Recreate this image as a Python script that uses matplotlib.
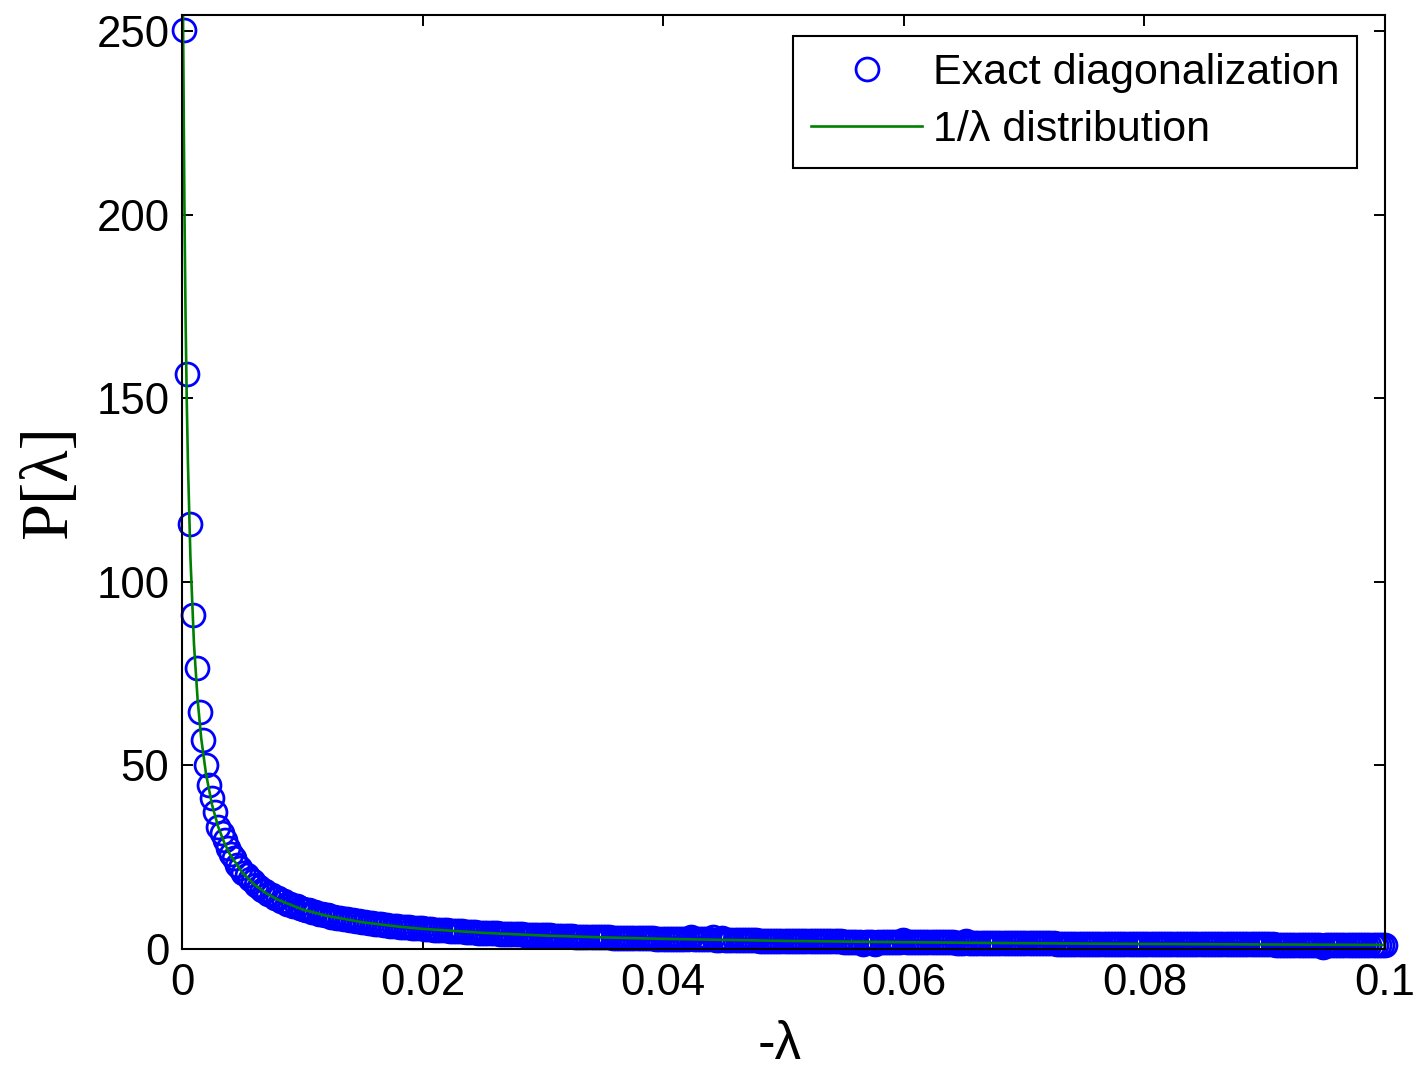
import numpy as np
import matplotlib
matplotlib.use("Agg")
import matplotlib.pyplot as plt

# Exact-diagonalization spectrum density, one value per eigenvalue bin
lam_start = 0.00017
lam_step = 0.00026
p_exact = [
    250.3, 156.6, 115.8, 91.0, 76.6, 64.6, 57.0, 50.2, 44.8, 41.2,
    37.2, 33.3, 31.6, 29.8, 27.4, 25.8, 24.7, 23.0, 22.2, 20.8,
    20.1, 19.0, 18.5, 17.4, 17.0, 16.1, 15.8, 15.0, 14.7, 14.0,
    13.8, 13.2, 13.0, 12.4, 12.3, 11.7, 11.6, 11.1, 11.0, 10.6,
    10.5, 10.1, 10.0, 9.6, 9.6, 9.2, 9.2, 8.8, 8.8, 8.5,
    8.5, 8.2, 8.2, 7.9, 7.9, 7.6, 7.6, 7.4, 7.3, 7.2,
    7.0, 6.9, 6.8, 6.7, 6.6, 6.5, 6.4, 6.3, 6.2, 6.1,
    6.1, 6.0, 5.9, 5.8, 5.7, 5.7, 5.6, 5.5, 5.5, 5.4,
    5.3, 5.3, 5.2, 5.1, 5.1, 5.0, 5.0, 4.9, 4.8, 4.8,
    4.7, 4.7, 4.6, 4.6, 4.5, 4.5, 4.4, 4.4, 4.4, 4.3,
    4.3, 4.2, 4.2, 4.1, 4.1, 4.1, 4.0, 4.0, 4.0, 3.9,
    3.9, 3.9, 3.8, 3.8, 3.8, 3.7, 3.7, 3.7, 3.6, 3.6,
    3.6, 3.5, 3.5, 3.5, 3.5, 3.4, 3.4, 3.4, 3.4, 3.3,
    3.3, 3.3, 3.3, 3.2, 3.2, 3.2, 3.2, 3.1, 3.1, 3.1,
    3.1, 3.0, 3.0, 3.0, 3.0, 3.0, 2.9, 2.9, 2.9, 2.9,
    2.9, 2.8, 2.8, 2.8, 2.8, 2.8, 2.8, 2.7, 2.7, 2.7,
    2.7, 2.7, 3.3, 2.6, 2.6, 2.6, 2.6, 2.6, 2.6, 3.2,
    2.5, 2.5, 3.1, 2.5, 2.5, 2.5, 2.4, 2.4, 2.4, 2.4,
    2.4, 2.4, 2.4, 2.4, 2.3, 2.3, 2.3, 2.3, 2.3, 2.3,
    2.3, 2.3, 2.2, 2.2, 2.2, 2.2, 2.2, 2.2, 2.2, 2.2,
    2.2, 2.1, 2.1, 2.1, 2.1, 2.1, 2.1, 2.1, 2.1, 2.1,
    2.1, 2.0, 2.0, 2.0, 2.0, 2.0, 2.0, 1.4, 2.0, 2.0,
    2.0, 1.4, 1.9, 1.9, 1.9, 1.9, 1.9, 1.9, 1.9, 1.9,
    2.5, 1.9, 1.9, 1.9, 1.8, 1.8, 1.8, 1.8, 1.8, 1.8,
    1.8, 1.8, 1.8, 1.8, 1.8, 1.8, 1.8, 1.7, 1.7, 1.7,
    2.3, 1.7, 1.7, 1.7, 1.7, 1.7, 1.7, 1.7, 1.7, 1.7,
    1.7, 1.7, 1.6, 1.6, 1.6, 1.6, 1.6, 1.6, 1.6, 1.6,
    1.6, 1.6, 1.6, 1.6, 1.6, 1.6, 1.6, 1.6, 1.6, 1.5,
    1.5, 1.5, 1.5, 1.5, 1.5, 1.5, 1.5, 1.5, 1.5, 1.5,
    1.5, 1.5, 1.5, 1.5, 1.5, 1.5, 1.5, 1.5, 1.5, 1.4,
    1.4, 1.4, 1.4, 1.4, 1.4, 1.4, 1.4, 1.4, 1.4, 1.4,
    1.4, 1.4, 1.4, 1.4, 1.4, 1.4, 1.4, 1.4, 1.4, 1.4,
    1.3, 1.3, 1.3, 1.3, 1.3, 1.3, 1.3, 1.3, 1.3, 1.3,
    1.3, 1.3, 1.3, 1.3, 1.3, 1.3, 1.3, 1.3, 1.3, 1.3,
    1.3, 1.3, 1.3, 1.3, 1.3, 1.3, 1.3, 1.3, 1.3, 1.2,
    1.2, 1.2, 1.2, 1.2, 1.2, 1.2, 1.2, 1.2, 1.2, 1.2,
    1.2, 1.2, 1.2, 1.2, 0.6, 1.2, 1.2, 1.2, 1.2, 1.2,
    1.2, 1.2, 1.2, 1.2, 1.2, 1.2, 1.2, 1.2, 1.1, 1.1,
    1.1, 1.1, 1.1, 1.1, 1.1,
]
lam = lam_start + lam_step * np.arange(len(p_exact))

# 1/lambda reference curve
theory_lam = [0.00005, 0.0001, 0.0002, 0.0003, 0.0004, 0.0005, 0.0007, 0.001,
              0.0013, 0.0016, 0.002, 0.0025, 0.003, 0.0035, 0.004, 0.005,
              0.006, 0.007, 0.008, 0.01, 0.012, 0.015, 0.018, 0.02, 0.025,
              0.03, 0.035, 0.04, 0.05, 0.06, 0.07, 0.08, 0.09, 0.1]
theory_p = [280.0, 249.0, 204.0, 172.0, 149.0, 132.0, 107.0, 83.0,
            68.0, 57.4, 47.7, 39.3, 33.4, 29.1, 25.7, 20.9,
            17.6, 15.2, 13.4, 10.8, 9.07, 7.30, 6.10, 5.50, 4.42,
            3.69, 3.17, 2.78, 2.22, 1.86, 1.59, 1.39, 1.24, 1.12]

x_ticks = [0, 0.02, 0.04, 0.06, 0.08, 0.1]
x_tick_labels = ["0", "0.02", "0.04", "0.06", "0.08", "0.1"]
y_ticks = [0, 50, 100, 150, 200, 250]

plt.rcParams['font.family'] = ['Liberation Sans', 'DejaVu Sans']

fig = plt.figure(figsize=(14.16, 10.72), dpi=100)
ax = fig.add_axes([0.1285, 0.1147, 0.8496, 0.8713])

ax.plot(lam, p_exact, linestyle='none', marker='o', markersize=16.5,
        markerfacecolor='none', markeredgecolor='#0000ff', markeredgewidth=2.0,
        clip_on=False, zorder=2, label='Exact diagonalization')
ax.plot(theory_lam, theory_p, color='#008000', linewidth=1.9, zorder=2.2,
        label='1/λ distribution')

ax.set_xlim(0, 0.1)
ax.set_ylim(0, 254.4)
ax.set_xticks(x_ticks)
ax.set_xticklabels(x_tick_labels)
ax.set_yticks(y_ticks)

ax.tick_params(direction='in', length=8, width=1.4, labelsize=31.5,
               top=True, right=True)
ax.tick_params(axis='x', pad=10)
ax.tick_params(axis='y', pad=9)
for spine in ax.spines.values():
    spine.set_linewidth(1.5)
    spine.set_zorder(3)

ax.set_xlabel('-λ', fontsize=38)
ax.xaxis.set_label_coords(0.497, -0.076)
ax.set_ylabel('P[λ]', fontsize=48, family=['Liberation Serif', 'DejaVu Serif'])
ax.yaxis.set_label_coords(-0.085, 0.5)

leg = ax.legend(loc='upper right', bbox_to_anchor=(0.9767, 0.9775),
                borderaxespad=0, fontsize=31, frameon=True, fancybox=False,
                handlelength=2.6, handletextpad=0.25, labelspacing=0.4,
                borderpad=0.4, numpoints=1)
leg.get_frame().set_edgecolor('black')
leg.get_frame().set_linewidth(1.5)
leg.get_frame().set_alpha(1)

fig.savefig('out.png', dpi=100, facecolor='white')
